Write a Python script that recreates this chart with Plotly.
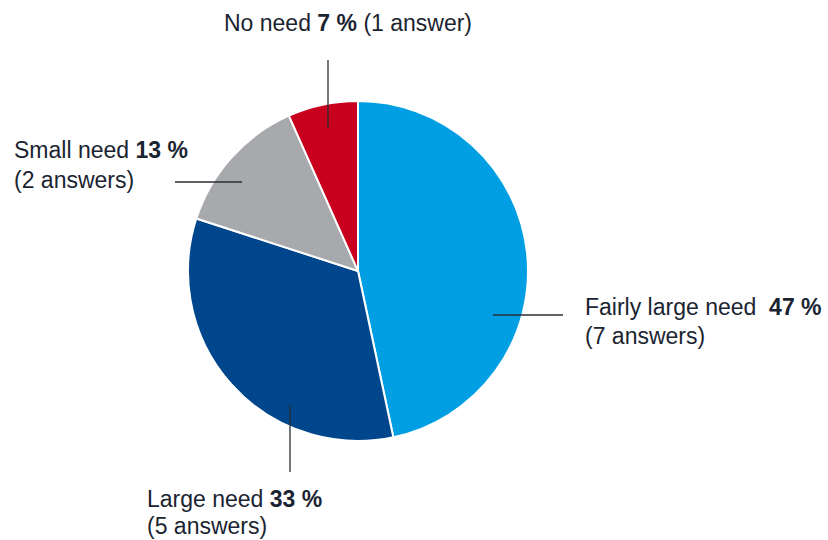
import plotly.graph_objects as go

# data
labels = ['Fairly large need', 'Large need', 'Small need', 'No need']
answers = [7, 5, 2, 1]
colors = ['#009FE3', '#00468C', '#A7A9AC', '#C8001E']

W, H = 828, 540
total = sum(answers)
pct = [round(a / total * 100) for a in answers]


def px_x(x):
    return x / W


def px_y(y):
    return 1 - y / H


fig = go.Figure()

fig.add_trace(go.Pie(
    labels=labels,
    values=answers,
    sort=False,
    direction='clockwise',
    rotation=0,
    marker=dict(colors=colors, line=dict(color='white', width=2)),
    textinfo='none',
    hoverinfo='label+value+percent',
    domain=dict(x=[px_x(188), px_x(528)], y=[px_y(441), px_y(101)]),
    showlegend=False
))

text_color = '#1B2431'
font = dict(family='Liberation Sans, Arial, sans-serif', size=23, color=text_color)


def answer_word(n):
    return 'answer' if n == 1 else 'answers'


# label text lines (x left, y of first line center, line count, line gap)
label_layout = {
    'No need': (222, 23, 1, 0),
    'Small need': (12, 150, 2, 30),
    'Fairly large need': (583, 307, 2, 29),
    'Large need': (145, 499, 2, 27),
}

for lab, n, p in zip(labels, answers, pct):
    x, y, nlines, gap = label_layout[lab]
    sep = '  ' if lab == 'Fairly large need' else ' '
    first = f'{lab}{sep}<b>{p} %</b>'
    second = f'({n} {answer_word(n)})'
    if nlines == 1:
        fig.add_annotation(x=px_x(x), y=px_y(y), xref='paper', yref='paper',
                           text=first + ' ' + second, showarrow=False,
                           xanchor='left', yanchor='middle', font=font)
    else:
        fig.add_annotation(x=px_x(x), y=px_y(y), xref='paper', yref='paper',
                           text=first, showarrow=False,
                           xanchor='left', yanchor='middle', font=font)
        fig.add_annotation(x=px_x(x), y=px_y(y + gap), xref='paper', yref='paper',
                           text=second, showarrow=False,
                           xanchor='left', yanchor='middle', font=font)

# leader lines
leaders = [
    (328, 60, 328, 128),
    (175, 182, 242, 182),
    (493, 315, 563, 315),
    (290, 405, 290, 472),
]
for x0, y0, x1, y1 in leaders:
    fig.add_shape(type='line', xref='paper', yref='paper',
                  x0=px_x(x0), y0=px_y(y0), x1=px_x(x1), y1=px_y(y1),
                  line=dict(color='#2A2F36', width=1.3))

fig.update_layout(
    width=W,
    height=H,
    margin=dict(l=0, r=0, t=0, b=0),
    paper_bgcolor='white',
    plot_bgcolor='white',
)

fig.write_html('out.html', config={'displayModeBar': False},
               post_script="document.body.style.margin='0';")
